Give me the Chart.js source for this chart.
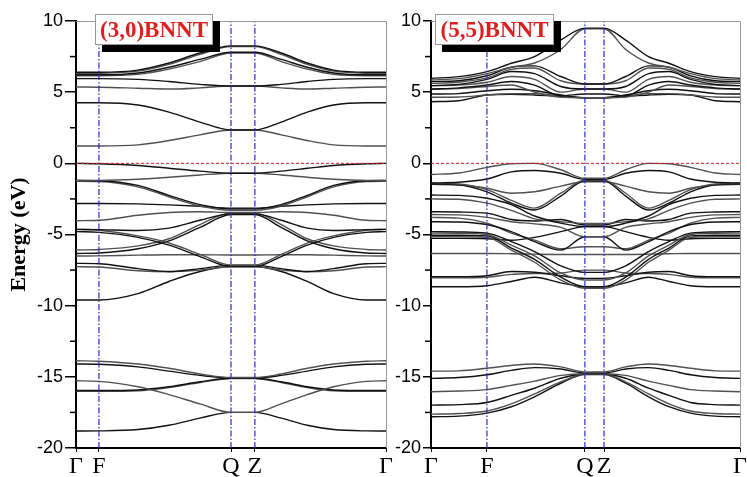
<!DOCTYPE html>
<html>
<head>
<meta charset="utf-8">
<script src="https://cdn.jsdelivr.net/npm/chart.js@4.4.0/dist/chart.umd.min.js"></script>
<style>
  body { margin: 0; background: #fff; }
  #wrap { position: relative; width: 747px; height: 477px; overflow: hidden; }
  canvas { position: absolute; top: 0; }
  #bandsA { left: 0; }
  #bandsB { left: 386px; }
  .tag {
    position: absolute; top: 14px; height: 29px; background: #fff;
    border: 1px solid #999; box-shadow: 7px 7px 0 #000;
    font: bold 23px 'Liberation Serif', serif; color: #dc1f1f;
    text-align: center; line-height: 30px;
  }
</style>
</head>
<body>
<div id="wrap">
  <canvas id="bandsA" width="400" height="477"></canvas>
  <canvas id="bandsB" width="361" height="477"></canvas>
  <div class="tag" style="left:95px; width:116px;">(3,0)BNNT</div>
  <div class="tag" style="left:435px; width:117px;">(5,5)BNNT</div>
</div>
<script>
// high-symmetry points along the path
const kLabels = ['Γ', 'F', 'Q', 'Z', 'Γ'];
const kTicksA = [0, 0.074, 0.5, 0.577, 1];
const kTicksB = [0, 0.181, 0.498, 0.56, 1];

// k samples for each tube
const kA = [0, 0.074, 0.2, 0.3, 0.4, 0.5, 0.577, 0.662, 0.746, 0.831, 0.937, 1];
const kB = [0, 0.09, 0.181, 0.26, 0.335, 0.42, 0.498, 0.56, 0.63, 0.704, 0.77, 0.84, 0.92, 1];

// (3,0) BNNT energies (eV) at kA
const bandsA = [
    [6.40, 6.40, 6.55, 7.05, 7.75, 8.25, 8.25, 7.75, 7.05, 6.55, 6.40, 6.40],
    [6.32, 6.33, 6.48, 6.95, 7.65, 8.20, 8.20, 7.65, 6.95, 6.48, 6.33, 6.32],
    [6.22, 6.22, 6.35, 6.75, 7.30, 7.80, 7.80, 7.30, 6.75, 6.35, 6.22, 6.22],
    [6.15, 6.15, 6.25, 6.62, 7.15, 7.75, 7.75, 7.15, 6.62, 6.25, 6.15, 6.15],
    [5.95, 5.95, 5.90, 5.75, 5.55, 5.43, 5.43, 5.55, 5.75, 5.90, 5.95, 5.95],
    [5.36, 5.35, 5.28, 5.22, 5.30, 5.43, 5.43, 5.30, 5.22, 5.28, 5.35, 5.36],
    [4.26, 4.26, 4.10, 3.60, 2.90, 2.34, 2.34, 2.90, 3.60, 4.10, 4.26, 4.26],
    [1.22, 1.22, 1.30, 1.60, 2.00, 2.34, 2.34, 2.00, 1.60, 1.30, 1.22, 1.22],
    [0.00, -0.03, -0.15, -0.35, -0.55, -0.70, -0.70, -0.55, -0.35, -0.15, -0.03, 0.00],
    [-1.20, -1.20, -1.12, -0.98, -0.82, -0.70, -0.70, -0.82, -0.98, -1.12, -1.20, -1.20],
    [-1.20, -1.22, -1.55, -2.25, -2.90, -3.20, -3.20, -2.90, -2.25, -1.55, -1.22, -1.20],
    [-1.26, -1.28, -1.65, -2.35, -3.00, -3.30, -3.30, -3.00, -2.35, -1.65, -1.28, -1.26],
    [-2.82, -2.82, -2.85, -2.92, -3.02, -3.15, -3.15, -3.02, -2.92, -2.85, -2.82, -2.82],
    [-4.03, -4.00, -3.65, -3.45, -3.40, -3.45, -3.45, -3.40, -3.45, -3.65, -4.00, -4.03],
    [-4.64, -4.66, -4.72, -4.55, -4.00, -3.55, -3.55, -4.00, -4.55, -4.72, -4.66, -4.64],
    [-4.64, -4.70, -5.10, -5.60, -6.40, -7.15, -7.15, -6.40, -5.60, -5.10, -4.70, -4.64],
    [-4.80, -4.85, -5.20, -5.75, -6.55, -7.26, -7.26, -6.55, -5.75, -5.20, -4.85, -4.80],
    [-6.09, -6.05, -5.80, -5.30, -4.30, -3.50, -3.50, -4.30, -5.30, -5.80, -6.05, -6.09],
    [-6.33, -6.30, -6.00, -5.45, -4.50, -3.60, -3.60, -4.50, -5.45, -6.00, -6.30, -6.33],
    [-6.51, -6.50, -6.45, -6.42, -6.42, -6.44, -6.44, -6.42, -6.42, -6.45, -6.50, -6.51],
    [-7.03, -7.05, -7.40, -7.60, -7.40, -7.15, -7.15, -7.40, -7.60, -7.40, -7.05, -7.03],
    [-7.26, -7.28, -7.55, -7.62, -7.50, -7.26, -7.26, -7.50, -7.62, -7.55, -7.28, -7.26],
    [-9.60, -9.60, -9.15, -8.30, -7.60, -7.26, -7.26, -7.60, -8.30, -9.15, -9.60, -9.60],
    [-13.87, -13.90, -14.10, -14.40, -14.80, -15.05, -15.05, -14.80, -14.40, -14.10, -13.90, -13.87],
    [-14.10, -14.12, -14.30, -14.60, -14.90, -15.08, -15.08, -14.90, -14.60, -14.30, -14.12, -14.10],
    [-15.28, -15.32, -15.70, -16.25, -16.90, -17.50, -17.50, -16.90, -16.25, -15.70, -15.32, -15.28],
    [-15.96, -15.96, -15.92, -15.70, -15.35, -15.10, -15.10, -15.35, -15.70, -15.92, -15.96, -15.96],
    [-16.02, -16.02, -15.98, -15.75, -15.40, -15.12, -15.12, -15.40, -15.75, -15.98, -16.02, -16.02],
    [-18.81, -18.80, -18.70, -18.40, -17.90, -17.50, -17.50, -17.90, -18.40, -18.70, -18.80, -18.81]
];

// (5,5) BNNT energies (eV) at kB
const bandsB = [
    [5.97, 6.09, 6.44, 7.03, 7.50, 8.66, 9.50, 9.50, 8.66, 7.50, 7.03, 6.44, 6.09, 5.97],
    [5.86, 5.95, 6.30, 6.75, 7.05, 8.00, 9.45, 9.45, 8.00, 7.05, 6.75, 6.30, 5.95, 5.86],
    [5.74, 5.80, 6.15, 6.75, 6.85, 6.10, 5.57, 5.57, 6.10, 6.85, 6.75, 6.15, 5.80, 5.74],
    [5.62, 5.70, 6.00, 6.60, 6.70, 5.80, 5.57, 5.57, 5.80, 6.70, 6.60, 6.00, 5.70, 5.62],
    [5.46, 5.55, 5.90, 6.45, 6.30, 5.40, 5.22, 5.22, 5.40, 6.30, 6.45, 5.90, 5.55, 5.46],
    [5.46, 5.50, 5.70, 6.10, 5.90, 5.00, 5.22, 5.22, 5.00, 5.90, 6.10, 5.70, 5.50, 5.46],
    [5.22, 5.30, 5.50, 5.75, 5.50, 4.75, 4.87, 4.87, 4.75, 5.50, 5.75, 5.50, 5.30, 5.22],
    [5.22, 5.25, 5.40, 5.50, 5.00, 4.65, 4.61, 4.61, 4.65, 5.00, 5.50, 5.40, 5.25, 5.22],
    [4.87, 4.90, 5.10, 5.20, 5.10, 4.80, 4.61, 4.61, 4.80, 5.10, 5.20, 5.10, 4.90, 4.87],
    [4.64, 4.66, 4.80, 4.90, 4.90, 4.75, 4.61, 4.61, 4.75, 4.90, 4.90, 4.80, 4.66, 4.64],
    [4.33, 4.40, 4.80, 4.85, 4.80, 4.70, 4.61, 4.61, 4.70, 4.80, 4.85, 4.80, 4.40, 4.33],
    [-0.78, -0.68, -0.28, -0.03, 0.00, -0.45, -1.05, -1.05, -0.45, 0.00, -0.03, -0.28, -0.68, -0.78],
    [-1.38, -1.33, -1.10, -0.60, -0.50, -0.70, -1.12, -1.12, -0.70, -0.50, -0.60, -1.10, -1.33, -1.38],
    [-1.40, -1.45, -1.85, -2.60, -3.15, -2.10, -1.18, -1.18, -2.10, -3.15, -2.60, -1.85, -1.45, -1.40],
    [-1.45, -1.50, -2.00, -2.80, -3.28, -2.30, -1.22, -1.22, -2.30, -3.28, -2.80, -2.00, -1.50, -1.45],
    [-1.48, -1.52, -1.75, -2.10, -2.00, -1.60, -1.29, -1.29, -1.60, -2.00, -2.10, -1.75, -1.52, -1.48],
    [-2.23, -2.25, -2.45, -2.90, -3.70, -4.20, -4.45, -4.45, -4.20, -3.70, -2.90, -2.45, -2.25, -2.23],
    [-2.50, -2.52, -2.80, -3.30, -3.90, -4.10, -4.22, -4.22, -4.10, -3.90, -3.30, -2.80, -2.52, -2.50],
    [-3.40, -3.42, -3.50, -3.95, -4.05, -3.95, -4.33, -4.33, -3.95, -4.05, -3.95, -3.50, -3.42, -3.40],
    [-3.60, -3.62, -3.80, -4.10, -4.25, -4.50, -5.16, -5.16, -4.50, -4.25, -4.10, -3.80, -3.62, -3.60],
    [-4.10, -4.12, -4.30, -4.80, -5.50, -6.10, -5.16, -5.16, -6.10, -5.50, -4.80, -4.30, -4.12, -4.10],
    [-3.80, -3.85, -4.20, -4.90, -5.40, -6.00, -5.86, -5.86, -6.00, -5.40, -4.90, -4.20, -3.85, -3.80],
    [-4.80, -4.82, -4.90, -5.50, -6.20, -7.20, -7.66, -7.66, -7.20, -6.20, -5.50, -4.90, -4.82, -4.80],
    [-4.90, -4.92, -5.00, -5.75, -6.50, -7.70, -8.20, -8.20, -7.70, -6.50, -5.75, -5.00, -4.92, -4.90],
    [-5.05, -5.05, -5.10, -5.95, -6.75, -8.00, -8.67, -8.67, -8.00, -6.75, -5.95, -5.10, -5.05, -5.05],
    [-5.16, -5.16, -5.20, -6.10, -6.95, -8.20, -8.78, -8.78, -8.20, -6.95, -6.10, -5.20, -5.16, -5.16],
    [-5.27, -5.27, -5.30, -5.40, -5.20, -4.80, -4.45, -4.45, -4.80, -5.20, -5.40, -5.30, -5.27, -5.27],
    [-6.33, -6.33, -6.33, -6.35, -6.38, -6.40, -6.40, -6.40, -6.40, -6.38, -6.35, -6.33, -6.33, -6.33],
    [-7.97, -7.97, -7.90, -7.60, -7.65, -7.90, -8.08, -8.08, -7.90, -7.65, -7.60, -7.90, -7.97, -7.97],
    [-8.05, -8.05, -8.00, -7.80, -7.75, -7.70, -7.50, -7.50, -7.70, -7.75, -7.80, -8.00, -8.05, -8.05],
    [-8.67, -8.67, -8.60, -8.30, -8.00, -8.40, -8.67, -8.67, -8.40, -8.00, -8.30, -8.60, -8.67, -8.67],
    [-14.60, -14.58, -14.40, -14.20, -14.10, -14.30, -14.65, -14.65, -14.30, -14.10, -14.20, -14.40, -14.58, -14.60],
    [-15.11, -15.05, -14.85, -14.55, -14.35, -14.45, -14.72, -14.72, -14.45, -14.35, -14.55, -14.85, -15.05, -15.11],
    [-16.05, -16.00, -15.90, -15.60, -15.30, -14.90, -14.78, -14.78, -14.90, -15.30, -15.60, -15.90, -16.00, -16.05],
    [-16.99, -16.95, -16.80, -16.30, -15.80, -15.10, -14.80, -14.80, -15.10, -15.80, -16.30, -16.80, -16.95, -16.99],
    [-17.62, -17.58, -17.40, -16.90, -16.20, -15.35, -14.82, -14.82, -15.35, -16.20, -16.90, -17.40, -17.58, -17.62],
    [-17.80, -17.76, -17.55, -17.10, -16.40, -15.45, -14.84, -14.84, -15.45, -16.40, -17.10, -17.55, -17.76, -17.80]
];

const yMin = -20, yMax = 10;
const minorTicks = [-17.5, -12.5, -7.5, -2.5, 2.5, 7.5];

function bandSets(ks, bands) {
    return bands.map((b, i) => ({
        data: ks.map((k, j) => ({ x: k, y: b[j] })),
        borderColor: i % 2 ? '#505050' : '#111111',
        borderWidth: 1.4,
        pointRadius: 0,
        showLine: true,
        cubicInterpolationMode: 'monotone',
        order: 2
    }));
}

function guideSets(ticks) {
    // dash-dot lines at F, Q, Z
    const sets = ticks.slice(1, 4).map(k => ({
        data: [{ x: k, y: yMin }, { x: k, y: yMax }],
        borderColor: '#2a2ad0',
        borderWidth: 1.2,
        borderDash: [6, 2, 1.5, 2],
        pointRadius: 0,
        showLine: true,
        order: 1
    }));
    // Fermi level
    sets.push({
        data: [{ x: 0, y: 0 }, { x: 1, y: 0 }],
        borderColor: '#d41c1c',
        borderWidth: 1,
        borderDash: [3, 2],
        pointRadius: 0,
        showLine: true,
        order: 1
    });
    return sets;
}

// gray top/right frame and minor y ticks
const framePlugin = {
    id: 'frame',
    afterDraw(chart) {
        const { ctx, chartArea: a, scales } = chart;
        ctx.save();
        ctx.strokeStyle = '#9a9a9a';
        ctx.lineWidth = 1;
        ctx.beginPath();
        ctx.moveTo(a.left, a.top + 0.5);
        ctx.lineTo(a.right + 0.5, a.top + 0.5);
        ctx.lineTo(a.right + 0.5, a.bottom);
        ctx.stroke();
        ctx.strokeStyle = '#000';
        ctx.lineWidth = 1.5;
        minorTicks.forEach(v => {
            const y = scales.y.getPixelForValue(v);
            ctx.beginPath();
            ctx.moveTo(a.left - 6, y);
            ctx.lineTo(a.left, y);
            ctx.stroke();
        });
        ctx.restore();
    }
};

function makeChart(id, ks, bands, ticks, yWidth, padRight, withTitle, tickLen) {
    return new Chart(document.getElementById(id), {
        type: 'scatter',
        data: { datasets: guideSets(ticks).concat(bandSets(ks, bands)) },
        options: {
            responsive: false,
            animation: false,
            devicePixelRatio: 1,
            layout: { padding: { top: 21, right: padRight, bottom: 0, left: 0 } },
            plugins: { legend: { display: false }, tooltip: { enabled: false } },
            scales: {
                x: {
                    type: 'linear',
                    min: 0,
                    max: 1,
                    afterBuildTicks: s => { s.ticks = ticks.map(v => ({ value: v })); },
                    afterFit: s => { s.height = 29; },
                    border: { color: '#000', width: 2 },
                    grid: { drawOnChartArea: false, tickLength: 4, color: '#000' },
                    ticks: {
                        autoSkip: false,
                        maxRotation: 0,
                        padding: 0,
                        color: '#000',
                        font: { family: "'Liberation Serif', serif", size: 24 },
                        callback: (v, i) => kLabels[i]
                    }
                },
                y: {
                    min: yMin,
                    max: yMax,
                    afterFit: s => { s.width = yWidth; },
                    border: { color: '#000', width: 2 },
                    grid: { drawOnChartArea: false, tickLength: tickLen, color: '#000', lineWidth: 1.5 },
                    ticks: {
                        stepSize: 5,
                        padding: 2,
                        color: '#000',
                        font: { family: "'Liberation Sans', Arial, sans-serif", size: 18 }
                    },
                    title: {
                        display: withTitle,
                        text: 'Energy (eV)',
                        color: '#000',
                        padding: { top: 6, bottom: 0 },
                        font: { family: "'Liberation Serif', serif", size: 22, weight: 'bold' }
                    }
                }
            }
        },
        plugins: [framePlugin]
    });
}

makeChart('bandsA', kA, bandsA, kTicksA, 76, 14, true, 11);
makeChart('bandsB', kB, bandsB, kTicksB, 45, 7, false, 8);
</script>
</body>
</html>
